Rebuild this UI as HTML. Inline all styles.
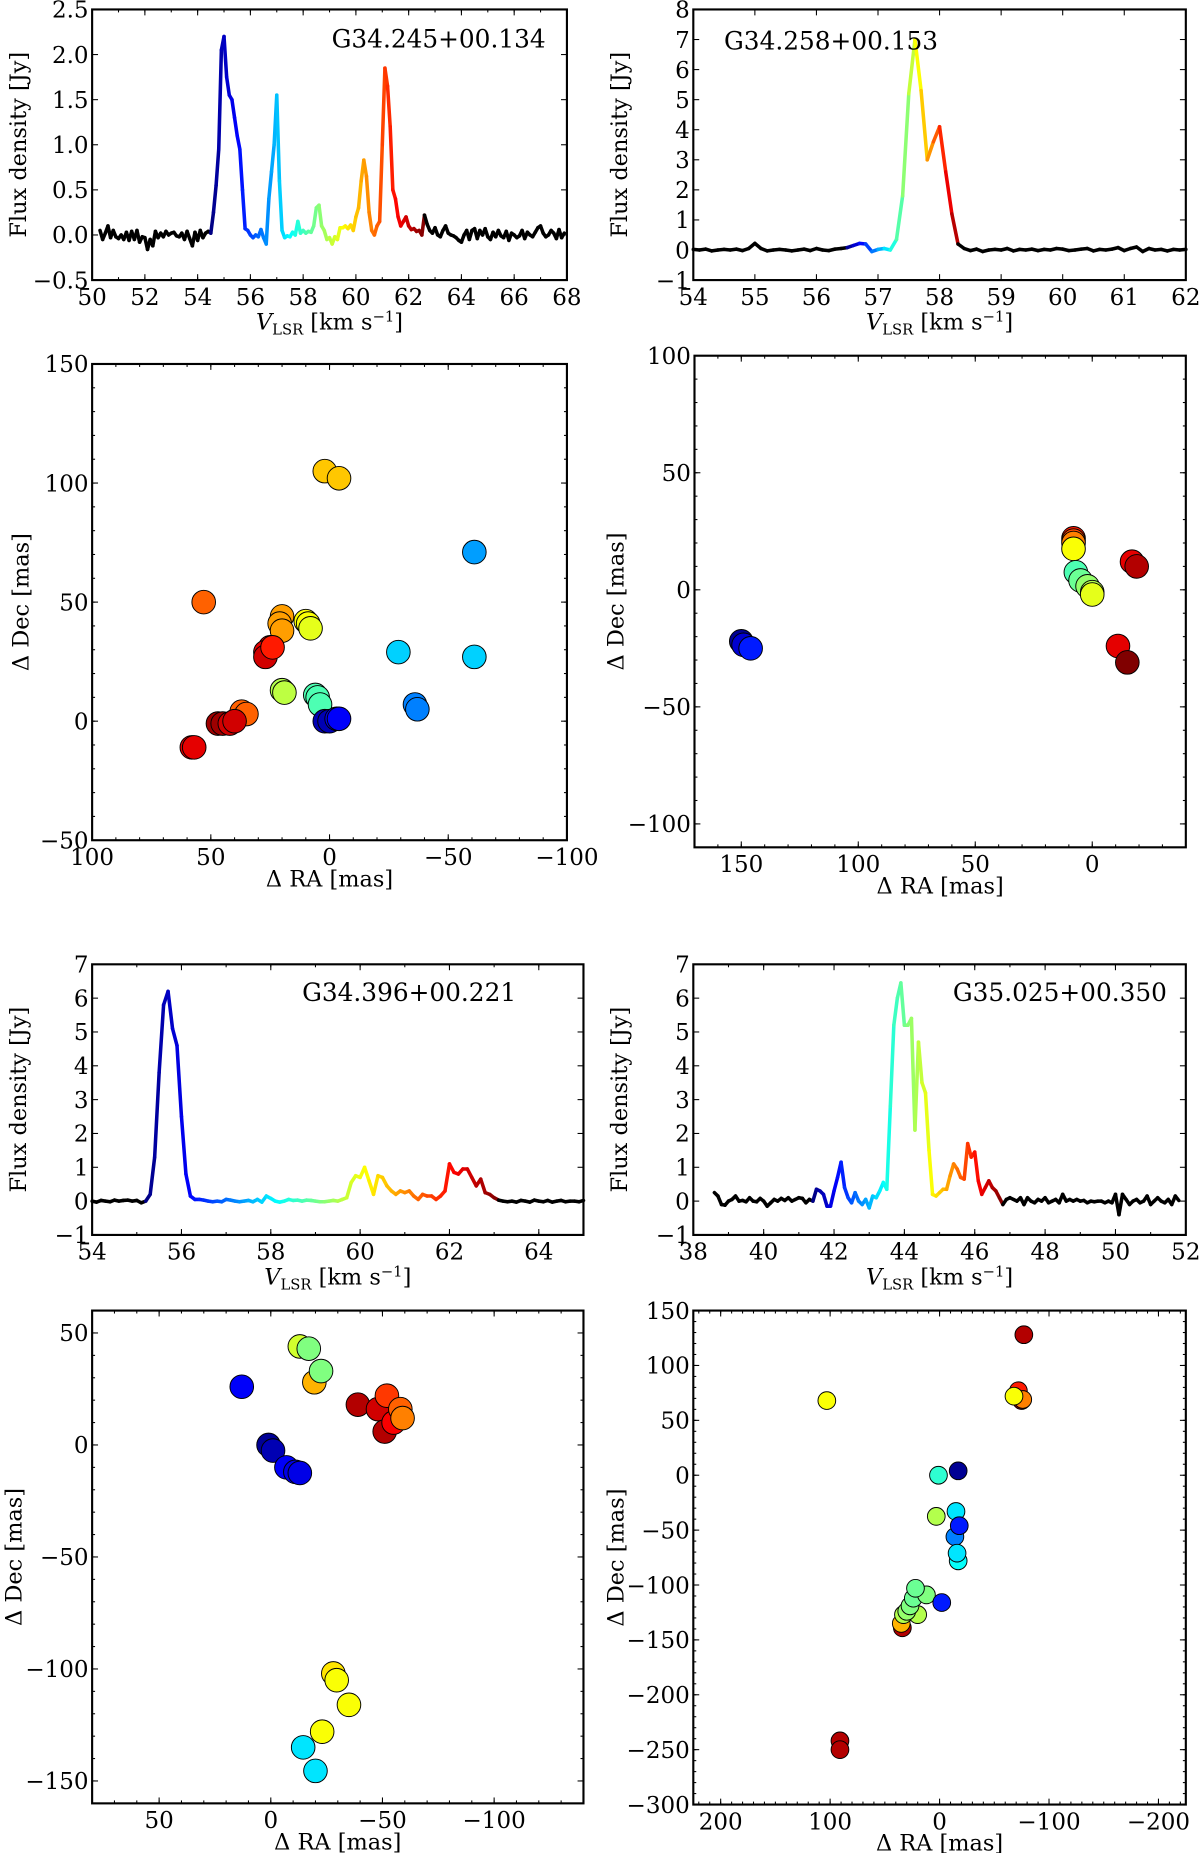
<!DOCTYPE html>
<html><head><meta charset="utf-8"><style>
html,body{margin:0;padding:0;background:#fff;}
svg{display:block;}
text{font-family:"DejaVu Serif","Liberation Serif",serif;fill:#000;}
</style></head>
<body>
<svg id="fig" width="1200" height="1853" viewBox="0 0 1016 1568" preserveAspectRatio="none" xmlns="http://www.w3.org/2000/svg"></svg>
<script>
// ---------- Spectrum data ----------
const specA_flux = [0.05,-0.05,0.02,0.1,-0.03,0.05,-0.02,-0.04,0.0,-0.05,0.03,-0.06,0.04,-0.05,0.05,-0.08,-0.02,-0.03,-0.16,-0.05,-0.12,0.04,-0.03,0.02,-0.02,0.04,0.0,0.02,0.03,-0.01,-0.02,0.02,-0.05,0.04,-0.04,-0.12,0.03,-0.06,0.05,-0.03,0.02,0.04,
0.02,0.25,0.55,0.95,2.05,2.2,1.75,1.55,1.5,1.3,1.1,0.95,0.5,0.07,0.05,0.0,-0.03,0.0,-0.02,0.06,-0.03,-0.1,0.4,0.7,1.0,1.55,0.6,0.05,-0.03,-0.01,-0.02,0.03,0.0,0.15,0.02,0.05,0.02,0.04,0.03,0.1,0.3,0.33,0.1,0.05,-0.05,-0.03,-0.1,-0.02,-0.05,0.08,0.08,0.1,0.07,0.11,0.05,0.2,0.3,0.6,0.83,0.65,0.25,0.05,0.0,0.1,0.15,1.0,1.85,1.65,1.2,0.5,0.4,0.2,0.1,0.15,0.2,0.1,0.06,0.07,0.04,0.05,0.0,0.22,
0.12,0.05,0.02,0.08,0.0,-0.02,0.05,0.1,0.02,0.0,-0.01,-0.03,-0.06,-0.08,0.0,0.05,-0.05,0.05,0.07,-0.04,0.05,0.0,0.07,-0.02,-0.05,0.03,-0.02,0.05,-0.01,-0.03,0.04,-0.06,0.02,0.0,-0.03,-0.01,0.05,-0.04,0.03,0.0,-0.02,0.03,0.08,0.1,0.02,-0.02,0.0,0.05,0.02,-0.04,0.06,-0.03,0.02];
const specB_flux = [0.02,0.0,0.03,-0.03,0.0,0.02,0.0,0.03,-0.02,0.05,0.22,0.05,-0.03,0.0,0.02,0.0,-0.03,0.0,0.03,-0.02,0.05,0.0,-0.02,0.03,0.05,
0.08,0.15,0.22,0.2,-0.05,0.02,0.05,0.0,0.35,1.8,5.2,7.0,5.3,3.0,3.6,4.1,2.6,1.2,0.2,0.05,
-0.02,0.03,-0.05,0.0,0.02,0.0,0.05,-0.03,0.02,0.0,0.03,-0.02,0.02,0.0,0.05,0.03,-0.02,0.0,0.03,0.05,-0.03,0.02,0.0,0.03,0.08,-0.02,0.05,0.1,-0.05,0.05,0.0,0.02,-0.03,0.02,0.0,0.02];
const specE_flux = [0.0,-0.03,0.02,0.0,-0.02,0.03,0.0,0.02,0.03,0.0,0.02,-0.05,
0.0,0.2,1.3,3.8,5.8,6.2,5.1,4.6,2.5,0.8,0.15,0.05,0.05,0.03,0.0,-0.02,0.0,-0.02,0.05,0.03,0.0,-0.02,0.0,0.02,-0.02,0.05,-0.03,0.15,0.08,0.0,-0.03,0.0,0.05,0.02,0.03,0.0,0.03,0.02,0.0,-0.02,-0.02,0.0,0.02,0.0,0.05,0.1,0.55,0.75,0.7,1.0,0.6,0.2,0.75,0.7,0.45,0.3,0.2,0.3,0.25,0.3,0.15,0.05,0.2,0.15,0.15,0.05,0.15,0.3,1.1,0.85,0.8,0.95,0.95,0.7,0.45,0.65,0.25,0.2,0.1,0.03,
0.0,-0.02,0.0,-0.03,0.02,0.0,-0.03,0.03,0.0,-0.02,0.02,-0.03,0.0,0.02,-0.02,0.0,0.0,-0.02,0.02];
const specF_flux = [0.25,0.15,-0.1,-0.12,0.0,0.05,0.15,0.0,0.02,-0.02,0.1,0.0,-0.02,0.08,0.0,-0.15,-0.05,0.05,0.0,0.08,0.02,0.1,0.0,0.05,0.1,0.08,-0.05,0.05,
0.0,0.35,0.3,0.2,-0.15,-0.15,0.3,0.7,1.15,0.4,0.1,-0.05,0.25,0.0,-0.1,0.05,-0.2,0.15,0.1,0.3,0.55,0.35,2.8,5.2,6.0,6.45,5.2,5.2,5.4,2.1,4.7,3.5,3.2,1.5,0.2,0.15,0.25,0.35,0.35,0.75,1.1,0.95,0.7,0.65,1.7,1.3,1.45,0.6,0.2,0.4,0.6,0.4,0.3,0.1,-0.1,
0.05,0.1,0.05,0.0,0.1,-0.1,0.1,0.0,-0.05,0.05,0.0,0.1,-0.05,0.0,0.05,-0.05,0.2,0.0,0.05,0.0,0.05,0.0,0.02,-0.05,0.0,-0.02,0.0,0.0,-0.05,0.0,-0.05,0.2,-0.4,0.2,0.05,-0.1,0.0,0.05,-0.05,0.0,0.15,-0.1,0.0,0.1,0.0,-0.05,0.05,-0.1,0.15,0.02];
const specA_xticks=[50,52,54,56,58,60,62,64,66,68];
const specA_yticks=[-0.5,0.0,0.5,1.0,1.5,2.0,2.5];
const specB_xticks=[54,55,56,57,58,59,60,61,62];
const specB_yticks=[-1,0,1,2,3,4,5,6,7,8];
const specE_xticks=[54,56,58,60,62,64];
const specE_yticks=[-1,0,1,2,3,4,5,6,7];
const specF_xticks=[38,40,42,44,46,48,50,52];
const specF_yticks=[-1,0,1,2,3,4,5,6,7];

// ---------- Spot maps: RA, Dec, colour fraction ----------
const spotC_ra =[2,-4,-61,-61,-29,-36,-37,53,20,21,20,10,9,8,25,27,27,24,20,19,6,5,4,2,0,-3,-4,37,35,47,45,42,40,58,57];
const spotC_dec=[105,102,71,27,29,7,5,50,44,41,38,42,41,39,31,29,27,31,13,12,11,10,7,0,0,1,1,4,3,-1,-1,-1,0,-11,-11];
const spotC_c  =[0.68,0.68,0.28,0.33,0.33,0.25,0.25,0.78,0.72,0.72,0.72,0.62,0.62,0.6,0.88,0.9,0.92,0.85,0.55,0.56,0.45,0.45,0.45,0.05,0.05,0.1,0.12,0.78,0.78,0.97,0.97,0.92,0.92,0.9,0.9];
const spotD_ra =[150,149,146,8,8,8,8,7,5,2,0,0,-17,-19,-11,-15];
const spotD_dec=[-22,-23.5,-25,22,21,20,17.5,7.5,4,1.5,-1,-2,12,10,-24,-31];
const spotD_c  =[0.02,0.08,0.15,0.85,0.8,0.75,0.62,0.45,0.48,0.52,0.55,0.6,0.9,0.95,0.9,1.0];
const spotG_ra =[13,1,-1,-7,-11,-13,-13,-17,-19.5,-22.5,-39,-48,-52,-51,-55,-58,-59,-28,-29.5,-35,-23,-14.5,-20];
const spotG_dec=[26,0,-2.5,-10,-12,-12.5,44,43,28,33,18,16,22,6,10,16,12,-102,-105,-116,-128,-135,-145.5];
const spotG_c  =[0.12,0.02,0.05,0.12,0.1,0.1,0.58,0.5,0.7,0.5,0.95,0.92,0.82,0.95,0.88,0.78,0.75,0.65,0.62,0.62,0.62,0.35,0.35];
const spotH_ra =[-77,103,-72,-75,-76,-68,1,-17,3,-15,-14,-18,-17,-16,34,35,20,33,30,27,24,12,22,-2,91,91];
const spotH_dec=[128,68,77,68,69,72,0,4,-37.5,-33,-56,-46,-78,-71,-139,-135,-127,-127,-124,-119,-112,-109,-103,-116,-242,-250];
const spotH_c  =[0.95,0.62,0.85,0.95,0.75,0.62,0.42,0.02,0.55,0.35,0.25,0.15,0.38,0.35,0.95,0.7,0.55,0.55,0.52,0.5,0.48,0.5,0.48,0.15,0.95,0.95];

const NS="http://www.w3.org/2000/svg";
const fig=document.getElementById('fig');
function el(tag,attrs,parent){const e=document.createElementNS(NS,tag);for(const k in attrs)e.setAttribute(k,attrs[k]);(parent||fig).appendChild(e);return e;}
function clamp(v){return Math.max(0,Math.min(1,v));}
function jet(t){const r=clamp(1.5-Math.abs(4*t-3)),g=clamp(1.5-Math.abs(4*t-2)),b=clamp(1.5-Math.abs(4*t-1));
 return 'rgb('+Math.round(r*255)+','+Math.round(g*255)+','+Math.round(b*255)+')';}
function fmt(v,d){const s=v.toFixed(d);return v<0?'\u2212'+s.slice(1):s;}

function axes(name,b,xlim,ylim,xt,yt,xminor,yminor,xdec,ydec){
 const g=el('g',{});
 
 
 const sx=v=>b.x0+(v-xlim[0])/(xlim[1]-xlim[0])*(b.x1-b.x0);
 const sy=v=>b.y1-(v-ylim[0])/(ylim[1]-ylim[0])*(b.y1-b.y0);
 const tg=el('g',{stroke:'#000','stroke-width':0.9},g);
 
 
 function xtick(v,len){const x=sx(v);el('line',{x1:x,x2:x,y1:b.y1,y2:b.y1-len},tg);el('line',{x1:x,x2:x,y1:b.y0,y2:b.y0+len},tg);}
 function ytick(v,len){const y=sy(v);el('line',{x1:b.x0,x2:b.x0+len,y1:y,y2:y},tg);el('line',{x1:b.x1,x2:b.x1-len,y1:y,y2:y},tg);}
 if(xminor){const lo=Math.min(xlim[0],xlim[1]),hi=Math.max(xlim[0],xlim[1]);for(let v=Math.ceil(lo/xminor)*xminor;v<=hi;v+=xminor)xtick(v,2.5);}
 if(yminor){for(let v=Math.ceil(ylim[0]/yminor)*yminor;v<=ylim[1];v+=yminor)ytick(v,2.5);}
 xt.forEach(v=>{xtick(v,5);const t=el('text',{x:sx(v),y:b.y1+21,'text-anchor':'middle','font-size':19.5},g);t.textContent=fmt(v,xdec);
  
  });
 yt.forEach(v=>{ytick(v,5);const t=el('text',{x:b.x0-3,y:sy(v)+7,'text-anchor':'end','font-size':19.5},g);t.textContent=fmt(v,ydec);
  
  });
 return {g,sx,sy};
}
function frame(g,b){const r=el('rect',{x:b.x0,y:b.y0,width:b.x1-b.x0,height:b.y1-b.y0,fill:'none',stroke:'#000','stroke-width':1.8},g);
 
 }

function spectrum(name,b,xlim,ylim,xt,yt,xminor,ydec,flux,v0,dv,c0,c1,title,tx,ty,anchor){
 const a=axes(name,b,xlim,ylim,xt,yt,xminor,0,0,ydec);
 const lg=el('g',{'stroke-width':3,'stroke-linecap':'round','stroke-linejoin':'round',fill:'none'},a.g);
 
 
 for(let i=0;i<flux.length-1;i++){
  const va=v0+i*dv,vb=v0+(i+1)*dv,vm=(va+vb)/2;
  const inside=va>=c0-1e-6&&vb<=c1+1e-6;
  el('line',{x1:a.sx(va),y1:a.sy(flux[i]),x2:a.sx(vb),y2:a.sy(flux[i+1]),stroke:inside?jet((vm-c0)/(c1-c0)):'#000'},lg);
 }
 frame(a.g,b);
 const t=el('text',{x:tx,y:ty,'font-size':21,'text-anchor':anchor},a.g);t.textContent=title;
 
 
 const yl=el('text',{x:0,y:0,'font-size':19,'text-anchor':'middle',transform:'translate('+(b.x0-56)+','+((b.y0+b.y1)/2)+') rotate(-90)'},a.g);
 yl.textContent='Flux density [Jy]';
 
 
 const xl=el('text',{x:(b.x0+b.x1)/2,y:b.y1+42,'font-size':19,'text-anchor':'middle'},a.g);
 xl.innerHTML='<tspan font-style="italic">V</tspan><tspan font-size="12.5" dy="4">LSR</tspan><tspan dy="-4"> [km s</tspan><tspan font-size="12.5" dy="-7">\u22121</tspan><tspan dy="7">]</tspan>';
 
 
}
function spots(name,b,xlim,ylim,xt,yt,xminor,yminor,ra,dec,col,r,ylx){
 const a=axes(name,b,xlim,ylim,xt,yt,xminor,yminor,0,0);
 const sg=el('g',{},a.g);
 
 
 for(let i=0;i<ra.length;i++){
  const c=el('circle',{cx:a.sx(ra[i]),cy:a.sy(dec[i]),r:r,fill:jet(col[i]),stroke:'#000','stroke-width':0.8},sg);
  
  
 }
 frame(a.g,b);
 const yl=el('text',{x:0,y:0,'font-size':19,'text-anchor':'middle',transform:'translate('+ylx+','+((b.y0+b.y1)/2)+') rotate(-90)'},a.g);
 yl.textContent='\u0394 Dec [mas]';
 
 
 const xl=el('text',{x:(b.x0+b.x1)/2,y:b.y1+39,'font-size':19,'text-anchor':'middle'},a.g);
 xl.textContent='\u0394 RA [mas]';
 
 
}

spectrum('spectrum-g34-245',{x0:78,x1:480,y0:8,y1:237},[50,68],[-0.5,2.5],specA_xticks,specA_yticks,1,1,specA_flux,50.3,0.1,54.5,62.6,'G34.245+00.134',462,40,'end');
spectrum('spectrum-g34-258',{x0:587,x1:1004,y0:8,y1:237},[54,62],[-1,8],specB_xticks,specB_yticks,0,0,specB_flux,54.0,0.1,56.5,58.35,'G34.258+00.153',613,42,'start');
spectrum('spectrum-g34-396',{x0:78,x1:494,y0:816,y1:1045},[54,65],[-1,7],specE_xticks,specE_yticks,1,0,specE_flux,54.0,0.1,55.2,63.1,'G34.396+00.221',437,847,'end');
spectrum('spectrum-g35-025',{x0:587,x1:1004,y0:816,y1:1045},[38,52],[-1,7],specF_xticks,specF_yticks,1,0,specF_flux,38.6,0.1,41.4,46.8,'G35.025+00.350',988,847,'end');

spots('spotmap-g34-245',{x0:78,x1:480,y0:308,y1:711},[100,-100],[-50,150],[100,50,0,-50,-100],[-50,0,50,100,150],10,10,spotC_ra,spotC_dec,spotC_c,10,24);
spots('spotmap-g34-258',{x0:588,x1:1004,y0:301,y1:717},[170,-40],[-110,100],[150,100,50,0],[-100,-50,0,50,100],10,10,spotD_ra,spotD_dec,spotD_c,10,528);
spots('spotmap-g34-396',{x0:78,x1:494,y0:1109,y1:1526},[80,-140],[-160,60],[50,0,-50,-100],[-150,-100,-50,0,50],10,10,spotG_ra,spotG_dec,spotG_c,10,18);
spots('spotmap-g35-025',{x0:587,x1:1004,y0:1109,y1:1527},[225,-225],[-300,150],[200,100,0,-100,-200],[-300,-250,-200,-150,-100,-50,0,50,100,150],10,10,spotH_ra,spotH_dec,spotH_c,7.5,528);
</script>
</body></html>
